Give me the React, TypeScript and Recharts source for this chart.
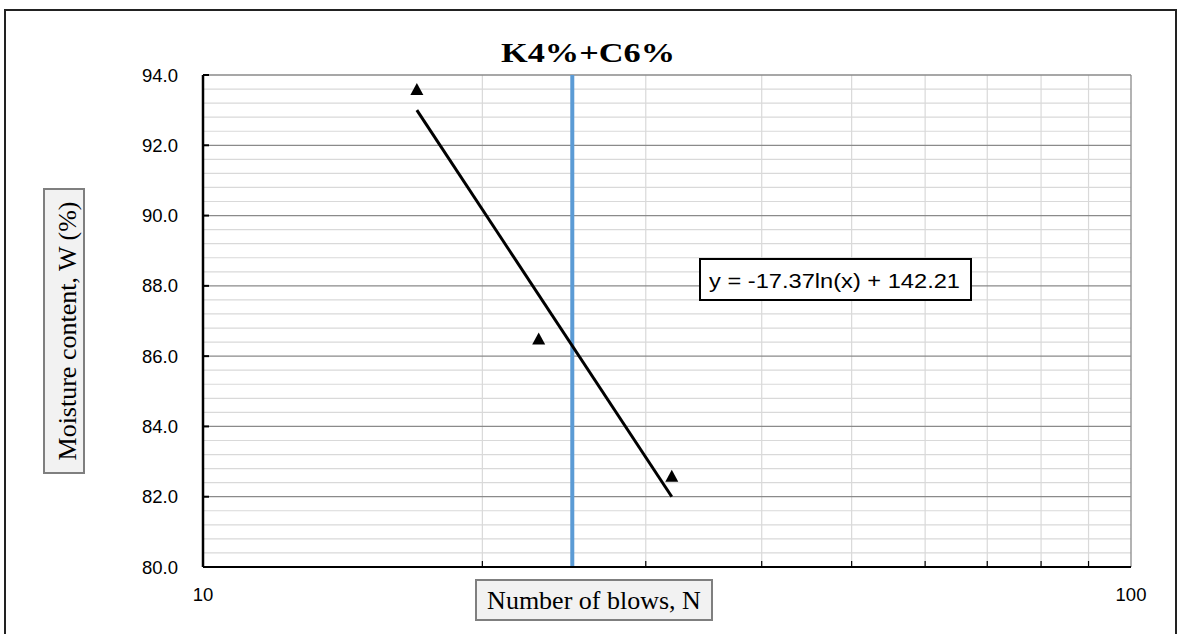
import React from "react";
import {
  ComposedChart,
  XAxis,
  YAxis,
  CartesianGrid,
  Scatter,
  Line,
  ReferenceLine,
} from "recharts";

// ---- Data ----
const BLOWS = [17, 23, 32];
const MOISTURE = [93.6, 86.5, 82.6];
const TREND_BLOWS = [17, 32];
const TREND_MOISTURE = [93.0, 82.0];
const LIMIT_BLOWS = 25;

const X_TICKS = [10, 20, 30, 40, 50, 60, 70, 80, 90, 100];
const X_LABELED = [10, 100];
const X_MINOR = [20, 30, 40, 50, 60, 70, 80, 90];
const Y_MAJOR = [80, 82, 84, 86, 88, 90, 92, 94];
const Y_MINOR = [
  80.4, 80.8, 81.2, 81.6, 82.4, 82.8, 83.2, 83.6, 84.4, 84.8, 85.2, 85.6, 86.4,
  86.8, 87.2, 87.6, 88.4, 88.8, 89.2, 89.6, 90.4, 90.8, 91.2, 91.6, 92.4, 92.8,
  93.2, 93.6,
];

const TITLE = "K4%+C6%";
const X_LABEL = "Number of blows, N";
const Y_LABEL = "Moisture content, W (%)";
const EQUATION = "y = -17.37ln(x) + 142.21";

const points = BLOWS.map((n, i) => ({ n, w: MOISTURE[i] }));
const trend = TREND_BLOWS.map((n, i) => ({ n, w: TREND_MOISTURE[i] }));

const TICK_FONT = "'Liberation Sans', Arial, sans-serif";
const SERIF = "'Liberation Serif', 'Times New Roman', serif";

const XTick = (props: any) => {
  const { x, y, payload } = props;
  const v = payload.value;
  if (X_LABELED.includes(v)) {
    return (
      <text
        x={x}
        y={y + 34}
        textAnchor="middle"
        fontFamily={TICK_FONT}
        fontSize={18.5}
        fill="#000"
      >
        {v}
      </text>
    );
  }
  return <line x1={x} x2={x} y1={y} y2={y - 6} stroke="#000" strokeWidth={1.2} />;
};

const YTick = (props: any) => {
  const { x, y, payload } = props;
  return (
    <g>
      <line x1={x} x2={x + 6} y1={y} y2={y} stroke="#000" strokeWidth={2} />
      <text
        x={x - 25}
        y={y + 6.5}
        textAnchor="end"
        fontFamily={TICK_FONT}
        fontSize={18.5}
        fill="#000"
      >
        {Number(payload.value).toFixed(1)}
      </text>
    </g>
  );
};

const Triangle = (props: any) => {
  const { cx, cy } = props;
  if (cx == null || cy == null) return null;
  const half = 6.5;
  const h = 12;
  return (
    <polygon
      points={`${cx - half},${cy + h / 2} ${cx + half},${cy + h / 2} ${cx},${cy - h / 2}`}
      fill="#000"
    />
  );
};

export default function App() {
  return (
    <div style={{ position: "absolute", left: 0, top: 0, width: 1179, height: 634, background: "#fff" }}>
      <ComposedChart
        width={1179}
        height={634}
        margin={{ top: 75, right: 48, bottom: 17, left: 0 }}
      >
        <CartesianGrid
          stroke="#d9d9d9"
          strokeWidth={1.2}
          horizontalValues={Y_MINOR}
          verticalValues={X_MINOR}
          fill="none"
        />
        <CartesianGrid
          stroke="#8a8a8a"
          strokeWidth={1.3}
          horizontalValues={Y_MAJOR.filter((v) => v > 80)}
          verticalValues={[100]}
          fill="none"
        />
        <XAxis
          type="number"
          dataKey="n"
          scale="log"
          domain={[10, 100]}
          ticks={X_TICKS}
          interval={0}
          height={50}
          tickSize={0}
          tickMargin={0}
          tickLine={false}
          axisLine={{ stroke: "#000", strokeWidth: 2 }}
          tick={<XTick />}
          allowDataOverflow
        />
        <YAxis
          type="number"
          dataKey="w"
          domain={[80, 94]}
          ticks={Y_MAJOR}
          interval={0}
          width={203}
          tickSize={0}
          tickMargin={0}
          tickLine={false}
          axisLine={{ stroke: "#000", strokeWidth: 2.5 }}
          tick={<YTick />}
          allowDataOverflow
        />
        <ReferenceLine
          x={LIMIT_BLOWS}
          stroke="#5b9bd5"
          strokeWidth={4}
          ifOverflow="visible"
        />
        <Line
          data={trend}
          dataKey="w"
          type="linear"
          stroke="#000"
          strokeWidth={3}
          dot={false}
          activeDot={false}
          isAnimationActive={false}
        />
        <Scatter
          data={points}
          dataKey="w"
          shape={<Triangle />}
          isAnimationActive={false}
        />
      </ComposedChart>
      <svg
        width={1179}
        height={634}
        style={{ position: "absolute", left: 0, top: 0, pointerEvents: "none" }}
      >
        <rect x={5} y={10} width={1171} height={700} fill="none" stroke="#222" strokeWidth={2} />
        <text
          x={588}
          y={62}
          textAnchor="middle"
          fontFamily={SERIF}
          fontWeight="bold"
          fontSize={28}
          fill="#000"
          textLength={174}
          lengthAdjust="spacingAndGlyphs"
        >
          {TITLE}
        </text>
        <rect x={700} y={259} width={271} height={41} fill="#fff" stroke="#000" strokeWidth={2} />
        <text
          x={709}
          y={288}
          fontFamily={TICK_FONT}
          fontSize={20}
          fill="#000"
          textLength={251}
          lengthAdjust="spacingAndGlyphs"
        >
          {EQUATION}
        </text>
        <rect x={476} y={580} width={236} height={40} fill="#f2f2f2" stroke="#7f7f7f" strokeWidth={2} />
        <text
          x={594}
          y={609}
          textAnchor="middle"
          fontFamily={SERIF}
          fontSize={26}
          fill="#000"
        >
          {X_LABEL}
        </text>
        <rect x={44} y={189} width={40} height={284} fill="#f2f2f2" stroke="#7f7f7f" strokeWidth={2} />
        <text
          transform="translate(76, 331) rotate(-90)"
          x={0}
          y={0}
          textAnchor="middle"
          fontFamily={SERIF}
          fontSize={26}
          fill="#000"
        >
          {Y_LABEL}
        </text>
      </svg>
    </div>
  );
}
